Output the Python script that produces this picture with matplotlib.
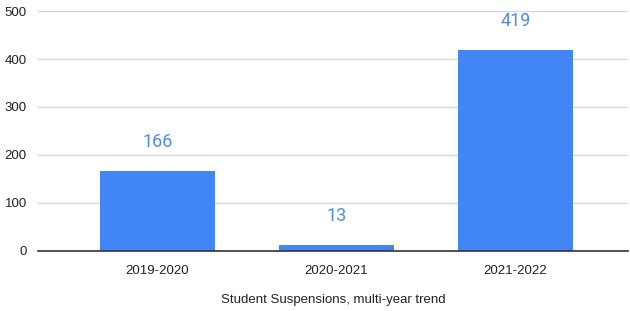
import matplotlib.pyplot as plt

# data
years = ["2019-2020", "2020-2021", "2021-2022"]
suspensions = [166, 13, 419]
y_ticks = [0, 100, 200, 300, 400, 500]

plt.rcParams['font.family'] = ['Liberation Sans', 'DejaVu Sans']

fig = plt.figure(figsize=(6.3, 3.11), dpi=100)
ax = fig.add_axes([0.0603, 0.193, 0.997 - 0.0603, 0.9646 - 0.193])

x = range(len(years))
bars = ax.bar(x, suspensions, width=0.64, color='#4285f4', zorder=3)

# value labels above bars
for xi, v in zip(x, suspensions):
    ax.annotate(str(v), (xi, v), xytext=(0, 21), textcoords='offset points',
                ha='center', va='center', fontsize=13, color='#4f8ce8',
                family=['Roboto', 'DejaVu Sans'])

ax.set_ylim(0, 500)
ax.set_xlim(-0.667, 2.63)
ax.set_yticks(y_ticks)
ax.set_xticks(list(x))
ax.set_xticklabels(years)

ax.grid(axis='y', color='#d9d9d9', linewidth=1, zorder=0)
ax.axhline(0, color='#333333', linewidth=1.2, zorder=4, clip_on=False)
for s in ax.spines.values():
    s.set_visible(False)
ax.tick_params(axis='both', length=0, labelsize=9.5, colors='#222222')
ax.tick_params(axis='y', pad=8)
ax.tick_params(axis='x', pad=10)

# axis title placed below the tick labels
fig.text(333 / 630, 1 - 300 / 311, "Student Suspensions, multi-year trend",
         ha='center', va='center', fontsize=9.5, color='#222222')

fig.savefig('out.png', dpi=100)
